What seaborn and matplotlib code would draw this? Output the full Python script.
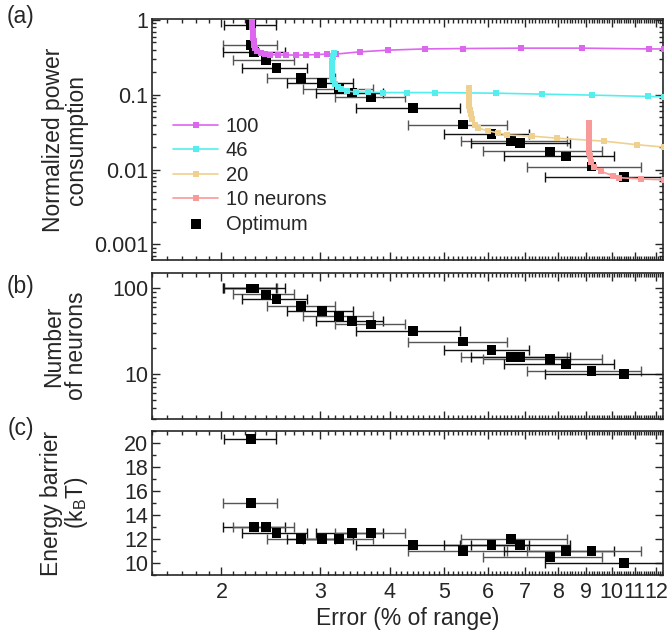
import matplotlib
matplotlib.use('Agg')
import matplotlib.pyplot as plt
import matplotlib.ticker as mticker
import numpy as np
import seaborn as sns

# optimum points (error in % of range, with lower / upper ends of the error bar)
err_opt = [2.26, 2.26, 2.29, 2.40, 2.51, 2.78, 3.03, 3.25, 3.43, 3.70,
           4.40, 5.41, 6.09, 6.60, 6.85, 7.74, 8.28, 9.20, 10.5]
err_lo = [2.02, 2.01, 2.01, 2.10, 2.18, 2.41, 2.62, 2.80, 2.95, 3.20,
          3.49, 4.32, 5.00, 5.36, 5.60, 5.88, 6.40, 7.06, 7.60]
err_hi = [2.50, 2.51, 2.60, 2.70, 2.84, 3.20, 3.44, 3.73, 3.90, 4.26,
          5.35, 6.50, 7.10, 8.30, 8.40, 9.60, 10.1, 11.3, 12.6]
power_opt = [0.85, 0.46, 0.37, 0.29, 0.23, 0.167, 0.143, 0.12, 0.107, 0.093,
             0.066, 0.040, 0.030, 0.024, 0.0225, 0.0175, 0.015, 0.011, 0.0079]
neurons_opt = [100, 100, 100, 85, 75, 62, 54, 48, 42, 38,
               32, 24, 19, 16, 16, 15, 13, 11, 10]
barrier_opt = [20.3, 15, 13, 13, 12.5, 12, 12, 12, 12.5, 12.5,
               11.5, 11, 11.5, 12, 11.5, 10.5, 11, 11, 10]

# power vs error curves for fixed neuron counts
n100_x = [2.27, 2.27, 2.27, 2.27, 2.28, 2.28, 2.28, 2.29, 2.29, 2.30, 2.32, 2.35, 2.39,
          2.44, 2.52, 2.61, 2.72, 2.83, 2.96, 3.09, 3.21, 3.54, 3.98, 4.62, 5.41,
          6.88, 8.83, 11.65, 12.4]
n100_y = [1.02, 0.95, 0.88, 0.80, 0.72, 0.65, 0.58, 0.52, 0.46, 0.42, 0.38, 0.36, 0.35,
          0.345, 0.34, 0.34, 0.34, 0.34, 0.345, 0.35, 0.35, 0.375, 0.395, 0.41, 0.415,
          0.42, 0.42, 0.41, 0.41]
n46_x = [3.18, 3.17, 3.16, 3.15, 3.16, 3.16, 3.17, 3.19, 3.23, 3.28, 3.36, 3.48, 3.66,
         3.90, 4.30, 4.82, 6.2, 7.5, 9.22, 11.6, 12.4]
n46_y = [0.36, 0.32, 0.28, 0.24, 0.21, 0.18, 0.16, 0.14, 0.128, 0.118, 0.112, 0.109, 0.108,
         0.107, 0.107, 0.107, 0.105, 0.102, 0.099, 0.095, 0.094]
n20_x = [5.54, 5.54, 5.54, 5.55, 5.55, 5.56, 5.57, 5.59, 5.63, 5.69, 5.76, 6.0, 6.25,
         6.5, 7.2, 7.99, 9.68, 11.1, 12.4]
n20_y = [0.123, 0.11, 0.098, 0.088, 0.078, 0.07, 0.062, 0.055, 0.047, 0.04, 0.036, 0.033,
         0.031, 0.029, 0.028, 0.0263, 0.024, 0.0215, 0.020]
n10_x = [9.10, 9.10, 9.10, 9.10, 9.11, 9.11, 9.12, 9.14, 9.18, 9.28, 9.55, 10.05, 10.3,
         11.3, 12.4]
n10_y = [0.042, 0.036, 0.031, 0.027, 0.023, 0.020, 0.017, 0.015, 0.0125, 0.011, 0.0095,
         0.0083, 0.0078, 0.0075, 0.0073]

curve_labels = ['100', '46', '20', '10 neurons']
curve_colors = ['#DD66EE', '#55EEEE', '#F0D08F', '#F89A9A']

x_ticks = [2, 3, 4, 5, 6, 7, 8, 9, 10, 11, 12]

sns.set_style('ticks')
plt.rcParams['font.family'] = ['Liberation Sans', 'DejaVu Sans']
plt.rcParams['axes.linewidth'] = 1.2

TICK_FS = 15.5
LEGEND_FS = 14.5
LABEL_FS = 16.5

fig = plt.figure(figsize=(6.68, 6.33), dpi=100)
L, W = 0.2271, 0.7654
ax_a = fig.add_axes([L, 0.5893, W, 0.3802])
ax_b = fig.add_axes([L, 0.3381, W, 0.2301], sharex=ax_a)
ax_c = fig.add_axes([L, 0.0911, W, 0.2285], sharex=ax_a)

for ax in (ax_a, ax_b, ax_c):
    ax.set_xscale('log')
ax_a.set_yscale('log')
ax_b.set_yscale('log')

x_arr = np.array(err_opt)
xerr = [x_arr - np.array(err_lo), np.array(err_hi) - x_arr]


# black squares with horizontal error bars, alternating black / grey bars like the original
def draw_optimum(ax, yvals, label=None):
    for i in range(len(err_opt)):
        ax.errorbar(err_opt[i], yvals[i], xerr=[[xerr[0][i]], [xerr[1][i]]],
                    fmt='none', ecolor='#111111' if i % 2 == 0 else '#555555',
                    elinewidth=1.0, capsize=3.5, capthick=1.0, zorder=2)
    sns.scatterplot(x=err_opt, y=yvals, marker='s', s=50, color='black',
                    edgecolor='none', label=label, legend=False, ax=ax, zorder=3)


draw_optimum(ax_a, power_opt, label='Optimum')
draw_optimum(ax_b, neurons_opt)
draw_optimum(ax_c, barrier_opt)

curves = [(n100_x, n100_y), (n46_x, n46_y), (n20_x, n20_y), (n10_x, n10_y)]
for (cx, cy), lab, col in zip(curves, curve_labels, curve_colors):
    sns.lineplot(x=cx, y=cy, sort=False, estimator=None, color=col, lw=1.2,
                 marker='s', markersize=3.8, markeredgewidth=0, label=lab,
                 legend=False, ax=ax_a, zorder=4)

# axis limits
ax_a.set_xlim(1.5, 12.35)
ax_a.set_ylim(0.00062, 1.02)
ax_b.set_ylim(3.0, 150)
ax_c.set_ylim(9.0, 21.0)

# x ticks
minor_x = [v for v in np.round(np.arange(1.5, 12.4, 0.1), 1) if v not in x_ticks]
for ax in (ax_a, ax_b, ax_c):
    ax.xaxis.set_major_locator(mticker.FixedLocator(x_ticks))
    ax.xaxis.set_minor_locator(mticker.FixedLocator(minor_x))
    ax.xaxis.set_major_formatter(mticker.FixedFormatter([str(t) for t in x_ticks]))
    ax.xaxis.set_minor_formatter(mticker.NullFormatter())
    ax.tick_params(which='both', direction='in', top=True, right=True, width=1.0)
    ax.tick_params(which='major', length=5.5)
    ax.tick_params(which='minor', length=3)
    ax.tick_params(axis='y', labelsize=TICK_FS, pad=2.5)
    ax.tick_params(axis='x', labelsize=TICK_FS, pad=5)
ax_a.tick_params(axis='x', labelbottom=False)
ax_b.tick_params(axis='x', labelbottom=False)

# y ticks
ax_a.yaxis.set_major_locator(mticker.FixedLocator([0.001, 0.01, 0.1, 1]))
ax_a.yaxis.set_major_formatter(mticker.FixedFormatter(['0.001', '0.01', '0.1', '1']))
ax_a.yaxis.set_minor_locator(mticker.LogLocator(base=10, subs=np.arange(2, 10)))
ax_a.yaxis.set_minor_formatter(mticker.NullFormatter())
ax_b.yaxis.set_major_locator(mticker.FixedLocator([10, 100]))
ax_b.yaxis.set_major_formatter(mticker.FixedFormatter(['10', '100']))
ax_b.yaxis.set_minor_locator(mticker.LogLocator(base=10, subs=np.arange(2, 10)))
ax_b.yaxis.set_minor_formatter(mticker.NullFormatter())
ax_c.yaxis.set_major_locator(mticker.MultipleLocator(2))
ax_c.yaxis.set_minor_locator(mticker.MultipleLocator(1))

# labels
ax_a.set_ylabel('Normalized power\nconsumption', fontsize=LABEL_FS, va='center',
                linespacing=1.0)
ax_b.set_ylabel('Number\nof neurons', fontsize=LABEL_FS, va='center', linespacing=1.0)
ax_c.set_ylabel('Energy barrier\n(k$_\\mathregular{B}$T)', fontsize=LABEL_FS,
                va='center', linespacing=1.0)
for ax in (ax_a, ax_b, ax_c):
    ax.yaxis.set_label_coords(-0.169, 0.5)
ax_c.set_xlabel('Error (% of range)', fontsize=LABEL_FS, labelpad=3)

fig.text(21 / 668, 1 - 16 / 633, '(a)', ha='center', va='center', fontsize=LABEL_FS)
fig.text(21 / 668, 1 - 287 / 633, '(b)', ha='center', va='center', fontsize=LABEL_FS)
fig.text(21 / 668, 1 - 428 / 633, '(c)', ha='center', va='center', fontsize=LABEL_FS)

# legend: curves first, then optimum
handles, labels = ax_a.get_legend_handles_labels()
order = [labels.index(l) for l in curve_labels + ['Optimum']]
ax_a.legend([handles[i] for i in order], [labels[i] for i in order],
            loc='upper left', bbox_to_anchor=(0.042, 0.595), frameon=False,
            fontsize=LEGEND_FS, handlelength=2.25, handletextpad=0.35,
            labelspacing=0.27, borderpad=0, borderaxespad=0)

fig.savefig('out.png', dpi=100)
